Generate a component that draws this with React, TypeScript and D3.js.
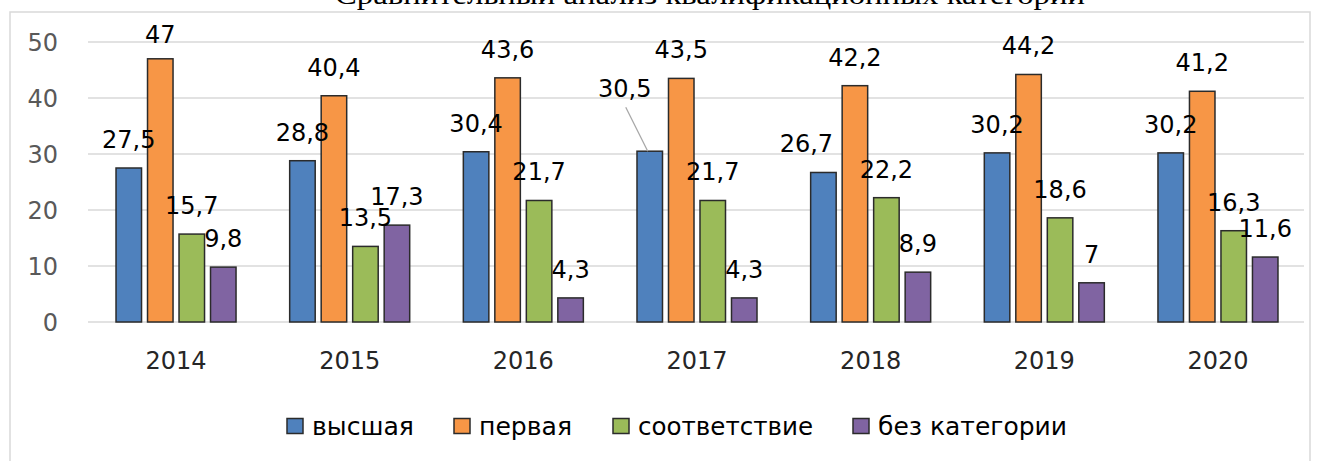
import React from "react";
import * as d3 from "d3";

const years = ["2014", "2015", "2016", "2017", "2018", "2019", "2020"];
const seriesNames = ["высшая", "первая", "соответствие", "без категории"];
const vysshaya = [27.5, 28.8, 30.4, 30.5, 26.7, 30.2, 30.2];
const pervaya = [47, 40.4, 43.6, 43.5, 42.2, 44.2, 41.2];
const sootvetstvie = [15.7, 13.5, 21.7, 21.7, 22.2, 18.6, 16.3];
const bezKategorii = [9.8, 17.3, 4.3, 4.3, 8.9, 7, 11.6];
const yTicks = [0, 10, 20, 30, 40, 50];
const title = "Сравнительный анализ квалификационных категорий";

const colors = ["#4f81bd", "#f79646", "#9bbb59", "#8064a2"];
const seriesValues = [vysshaya, pervaya, sootvetstvie, bezKategorii];

// label adjustments (series index, year index, dx, dy, leader line)
const labelAdjust = [
  { s: 0, y: 3, dx: -25, dy: -34, leader: true },
  { s: 0, y: 4, dx: -17, dy: 0, leader: false },
  { s: 1, y: 0, dx: 0, dy: 4, leader: false },
];

// legend layout
const legendX = [286, 453, 612, 852];
const legendTextW = [102, 93, 175, 189];

export default function App() {
  const W = 1333;
  const H = 461;
  const x = d3.scaleBand().domain(years).range([89.2, 1304.8]).paddingInner(0).paddingOuter(0);
  const groupInner = 126;
  const xs = d3
    .scaleBand()
    .domain(seriesNames)
    .range([-groupInner / 2, groupInner / 2])
    .paddingInner(0.19)
    .paddingOuter(0.095);
  const y = d3.scaleLinear().domain([0, 50]).range([322, 42]);
  const font = "'DejaVu Sans', sans-serif";

  const bars: React.ReactNode[] = [];
  const labels: React.ReactNode[] = [];
  seriesNames.forEach((s, si) => {
    years.forEach((yr, yi) => {
      const v = seriesValues[si][yi];
      const cx = (x(yr) as number) + x.bandwidth() / 2;
      const bx = cx + (xs(s) as number);
      const bw = xs.bandwidth();
      bars.push(
        <rect
          key={`b-${si}-${yi}`}
          x={bx}
          y={y(v)}
          width={bw}
          height={y(0) - y(v)}
          fill={colors[si]}
          stroke="#2b2b2b"
          strokeWidth={1.5}
        />
      );
      const adj = labelAdjust.find((a) => a.s === si && a.y === yi);
      const lx = bx + bw / 2 + (adj ? adj.dx : 0);
      const ly = y(v) - 20 + (adj ? adj.dy : 0);
      const txt = String(v).replace(".", ",");
      if (adj && adj.leader) {
        labels.push(
          <line
            key={`ll-${si}-${yi}`}
            x1={lx + 1}
            y1={ly + 10}
            x2={bx + bw / 2 - 2}
            y2={y(v)}
            stroke="#a6a6a6"
            strokeWidth={1.3}
          />
        );
      }
      labels.push(
        <text
          key={`l-${si}-${yi}`}
          x={lx}
          y={ly}
          textAnchor="middle"
          fontFamily={font}
          fontSize={24}
          fill="#000"
        >
          {txt}
        </text>
      );
    });
  });

  return (
    <svg
      width={W}
      height={H}
      style={{ position: "absolute", left: 0, top: 0, background: "#fff" }}
    >
      <rect x={0} y={0} width={W} height={H} fill="#fff" />
      <text
        x={710}
        y={4}
        textAnchor="middle"
        fontFamily="'Liberation Serif', serif"
        fontSize={28}
        textLength={750}
        lengthAdjust="spacingAndGlyphs"
        fill="#000"
      >
        {title}
      </text>
      <rect x={10} y={12} width={1300} height={470} fill="none" stroke="#d9d9d9" strokeWidth={1.5} />
      {yTicks.map((t) => (
        <g key={`g-${t}`}>
          <line x1={88} x2={1304} y1={y(t)} y2={y(t)} stroke="#d9d9d9" strokeWidth={1.5} />
          <text
            x={58}
            y={y(t)}
            dy="0.36em"
            textAnchor="end"
            fontFamily={font}
            fontSize={24}
            fill="#595959"
          >
            {t}
          </text>
        </g>
      ))}
      {bars}
      {labels}
      {years.map((yr) => (
        <text
          key={`x-${yr}`}
          x={(x(yr) as number) + x.bandwidth() / 2}
          y={369}
          textAnchor="middle"
          fontFamily={font}
          fontSize={24}
          fill="#262626"
        >
          {yr}
        </text>
      ))}
      {seriesNames.map((s, i) => (
        <g key={`lg-${i}`}>
          <rect
            x={legendX[i] + 1}
            y={418.5}
            width={16}
            height={15}
            fill={colors[i]}
            stroke="#2b2b2b"
            strokeWidth={1.5}
          />
          <text
            x={legendX[i] + 26}
            y={435}
            fontFamily={font}
            fontSize={24}
            textLength={legendTextW[i]}
            lengthAdjust="spacingAndGlyphs"
            fill="#000"
          >
            {s}
          </text>
        </g>
      ))}
    </svg>
  );
}
